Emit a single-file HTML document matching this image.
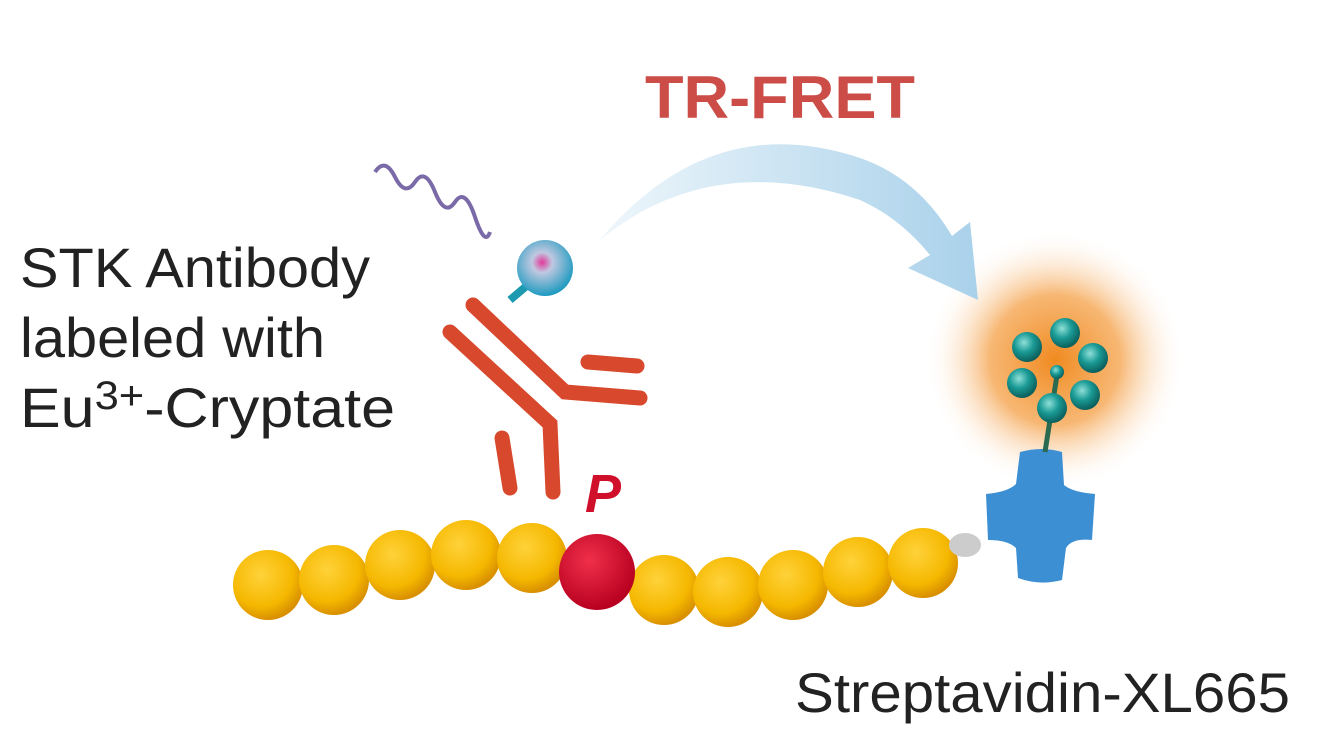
<!DOCTYPE html>
<html><head><style>body{margin:0;background:#fff}svg{display:block}</style></head><body>
<svg width="1340" height="742" viewBox="0 0 1340 742" xmlns="http://www.w3.org/2000/svg">
<defs>
<radialGradient id="glow" cx="50%" cy="50%" r="50%"><stop offset="0" stop-color="#f08a20"/><stop offset="0.5" stop-color="#f5a550" stop-opacity="0.8"/><stop offset="1" stop-color="#fff" stop-opacity="0"/></radialGradient>
<radialGradient id="yb" cx="40%" cy="35%" r="65%"><stop offset="0" stop-color="#ffd23a"/><stop offset="0.7" stop-color="#f5b800"/><stop offset="1" stop-color="#d99000"/></radialGradient>
<radialGradient id="rb" cx="40%" cy="35%" r="65%"><stop offset="0" stop-color="#f0304a"/><stop offset="1" stop-color="#b80020"/></radialGradient>
<radialGradient id="tb" cx="40%" cy="35%" r="65%"><stop offset="0" stop-color="#8fe0d8"/><stop offset="0.5" stop-color="#1a9a95"/><stop offset="1" stop-color="#0b5f5c"/></radialGradient>
<radialGradient id="bb" cx="45%" cy="40%" r="60%"><stop offset="0" stop-color="#e03a9a"/><stop offset="0.3" stop-color="#c0c8e0"/><stop offset="1" stop-color="#1d9ac0"/></radialGradient>
<linearGradient id="arr" x1="0" y1="0" x2="1" y2="0"><stop offset="0" stop-color="#eef6fb"/><stop offset="1" stop-color="#a9d1ea"/></linearGradient>
</defs>
<circle cx="1055" cy="360" r="130" fill="url(#glow)"/>
<path d="M600 240 Q710 150 860 200 Q900 218 930 255 L908 268 L978 300 L970 222 L952 236 Q918 178 860 158 Q710 108 600 240Z" fill="url(#arr)"/>
<text x="645" y="118" font-family="Liberation Sans,sans-serif" font-weight="bold" font-size="60" fill="#cc4d48" textLength="270" lengthAdjust="spacingAndGlyphs">TR-FRET</text>
<g font-family="Liberation Sans,sans-serif" font-size="56" fill="#222">
<text x="20" y="287" textLength="350" lengthAdjust="spacingAndGlyphs">STK Antibody</text>
<text x="20" y="357" textLength="305" lengthAdjust="spacingAndGlyphs">labeled with</text>
<text x="20" y="427" textLength="375" lengthAdjust="spacingAndGlyphs">Eu<tspan font-size="40" dy="-18">3+</tspan><tspan dy="18">-Cryptate</tspan></text>
<text x="795" y="712" textLength="495" lengthAdjust="spacingAndGlyphs">Streptavidin-XL665</text>
</g>
<path d="M375 172 q10-15 20 5 t20 5 t20 10 t20 10 t20 15 t15 15" fill="none" stroke="#7a6aa8" stroke-width="4"/>
<g fill="none" stroke="#d8482c" stroke-width="15" stroke-linecap="round">
<path d="M473 305 L565 392 L640 398"/>
<path d="M450 332 L550 424 L553 492"/>
<path d="M502 438 L510 488"/>
<path d="M588 362 L637 366"/>
</g>
<line x1="510" y1="300" x2="530" y2="283" stroke="#1d9ab0" stroke-width="8"/>
<circle cx="545" cy="268" r="28" fill="url(#bb)"/>
<g fill="url(#yb)">
<circle cx="268" cy="585" r="35"/><circle cx="334" cy="580" r="35"/><circle cx="400" cy="565" r="35"/><circle cx="466" cy="555" r="35"/><circle cx="532" cy="558" r="35"/>
<circle cx="664" cy="590" r="35"/><circle cx="728" cy="592" r="35"/><circle cx="793" cy="585" r="35"/><circle cx="858" cy="572" r="35"/><circle cx="923" cy="563" r="35"/>
</g>
<circle cx="597" cy="572" r="38" fill="url(#rb)"/>
<text x="585" y="512" font-family="Liberation Sans,sans-serif" font-weight="bold" font-style="italic" font-size="54" fill="#d0102a">P</text>
<ellipse cx="965" cy="545" rx="16" ry="12" fill="#ccc"/>
<path d="M1020 452 Q1042 446 1062 452 L1064 485 Q1072 492 1095 494 L1092 540 Q1072 538 1066 548 L1062 580 Q1040 586 1018 578 L1016 548 Q1008 540 988 540 L986 494 Q1008 492 1016 484Z" fill="#3d8fd4"/>
<line x1="1057" y1="375" x2="1045" y2="452" stroke="#2a6a50" stroke-width="5"/>
<g fill="url(#tb)">
<circle cx="1065" cy="333" r="15"/><circle cx="1093" cy="358" r="15"/><circle cx="1085" cy="395" r="15"/><circle cx="1052" cy="408" r="15"/><circle cx="1022" cy="383" r="15"/><circle cx="1027" cy="347" r="15"/><circle cx="1057" cy="372" r="7"/>
</g>
</svg>
</body></html>
